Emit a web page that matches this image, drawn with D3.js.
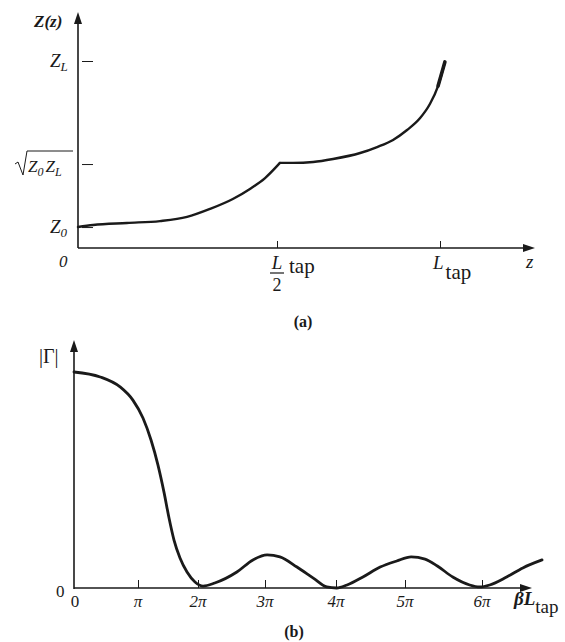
<!DOCTYPE html>
<html>
<head>
<meta charset="utf-8">
<script src="https://cdn.jsdelivr.net/npm/d3@7"></script>
<style>
  body { margin: 0; background: #fff; }
  svg { display: block; }
  svg text { font-family: "Liberation Serif", "Times New Roman", "DejaVu Serif", serif; fill: #1a1a1a; }
  .axis path, .axis line { stroke: #1a1a1a; }
</style>
</head>
<body>
<div id="chart"></div>
<script>
// (a) impedance along the taper: z in units of L_tap, Z in units of Z_L
const zPos = [0, 0.038, 0.123, 0.206, 0.274, 0.332, 0.389, 0.432, 0.470, 0.509,
  0.549, 0.611, 0.672, 0.755, 0.807, 0.856, 0.899, 0.939, 0.969, 0.994, 1.015];
const zImp = [0.112, 0.123, 0.134, 0.144, 0.166, 0.209, 0.262, 0.316, 0.374, 0.455,
  0.455, 0.460, 0.476, 0.508, 0.540, 0.578, 0.631, 0.695, 0.770, 0.866, 0.995];
const kink = 9; // index of the corner at L/2
const zTicks = [0.5, 1];
const impTicks = [0.112, 0.449, 1];

// (b) |Gamma| vs beta*L_tap, x in units of pi
const bl = [0, 0.41, 0.72, 0.92, 1.083, 1.217, 1.333, 1.433, 1.517, 1.6, 1.7, 1.817,
  1.95, 2.075, 2.25, 2.58, 2.82, 3.03, 3.21, 3.45, 3.68, 3.87, 4.01, 4.16, 4.39, 4.64,
  4.88, 5.08, 5.26, 5.42, 5.62, 5.84, 5.97, 6.10, 6.32, 6.53, 6.78];
const gam = [1.0, 0.977, 0.931, 0.870, 0.787, 0.685, 0.569, 0.444, 0.324, 0.222, 0.139,
  0.074, 0.028, 0.009, 0.023, 0.074, 0.130, 0.153, 0.144, 0.097, 0.046, 0.005, 0.0,
  0.014, 0.051, 0.097, 0.125, 0.144, 0.134, 0.102, 0.051, 0.014, 0.005, 0.014, 0.051,
  0.093, 0.130];
const blTicks = [1, 2, 3, 4, 5, 6];
const blLabels = ["π", "2π", "3π", "4π", "5π", "6π"];

const width = 565, height = 642;
const svg = d3.select("#chart").append("svg")
  .attr("width", width).attr("height", height);

const ink = "#1a1a1a";

function arrow(x, y, dir) {
  // filled arrow head, tip at (x,y)
  const p = dir === "up"
    ? [[x, y], [x - 4, y + 12], [x + 4, y + 12]]
    : [[x, y], [x - 12, y - 4], [x - 12, y + 4]];
  svg.append("path").attr("d", d3.line()(p) + "Z").attr("fill", ink);
}

// ---------- (a) ----------
const xA = d3.scaleLinear().domain([0, 0.5, 1]).range([78, 277, 440]);
const yA = d3.scaleLinear().domain([0, 1]).range([248, 61]);

svg.append("g").attr("class", "axis")
  .attr("transform", "translate(0,248)")
  .call(d3.axisTop(xA).tickValues(zTicks).tickFormat("").tickSize(7).tickSizeOuter(0))
  .call(g => g.select(".domain").attr("d", "M78,0H525").attr("stroke-width", 1.4));
svg.append("g").attr("class", "axis")
  .attr("transform", "translate(78,0)")
  .call(d3.axisRight(yA).tickValues(impTicks).tickFormat("").tickSize(15).tickSizeOuter(0))
  .call(g => g.select(".domain").attr("d", "M0,248V22").attr("stroke-width", 1.6))
  .call(g => g.selectAll(".tick line").attr("x1", 4));
arrow(78, 12, "up");
arrow(535, 248, "right");

const pts = d3.zip(zPos, zImp);
const lineA = d3.line().x(d => xA(d[0])).y(d => yA(d[1])).curve(d3.curveMonotoneX);
[pts.slice(0, kink + 1), pts.slice(kink)].forEach(seg => {
  svg.append("path")
    .datum(seg)
    .attr("fill", "none").attr("stroke", ink).attr("stroke-width", 2.4)
    .attr("stroke-linecap", "round").attr("stroke-linejoin", "round")
    .attr("d", lineA);
});
// heavier end of the curve at Z_L
svg.append("path")
  .datum(pts.slice(-2))
  .attr("fill", "none").attr("stroke", ink).attr("stroke-width", 3.6)
  .attr("stroke-linecap", "round")
  .attr("d", lineA);

// labels (a)
svg.append("text").attr("x", 34).attr("y", 27).attr("font-size", 17)
  .attr("font-style", "italic").attr("font-weight", "bold").text("Z(z)");
const zl = svg.append("text").attr("x", 50).attr("y", 67).attr("font-size", 19).attr("font-style", "italic");
zl.append("tspan").text("Z");
zl.append("tspan").attr("font-size", 13).attr("dy", 4).text("L");
const z0 = svg.append("text").attr("x", 50).attr("y", 233).attr("font-size", 19).attr("font-style", "italic");
z0.append("tspan").text("Z");
z0.append("tspan").attr("font-size", 13).attr("dy", 4).text("0");
const sq = svg.append("text").attr("x", 28).attr("y", 172).attr("font-size", 17).attr("font-style", "italic");
sq.append("tspan").text("Z");
sq.append("tspan").attr("font-size", 12).attr("dy", 4).text("0");
sq.append("tspan").attr("dy", -4).attr("dx", 2).text("Z");
sq.append("tspan").attr("font-size", 12).attr("dy", 4).text("L");
svg.append("path").attr("d", "M15,164L18,162L23,175L27,151H73")
  .attr("fill", "none").attr("stroke", ink).attr("stroke-width", 1);
svg.append("text").attr("x", 59).attr("y", 267).attr("font-size", 17)
  .attr("font-style", "italic").text("0");
svg.append("text").attr("x", xA(0.5)).attr("y", 269).attr("font-size", 19)
  .attr("font-style", "italic").attr("text-anchor", "middle").text("L");
svg.append("line").attr("x1", xA(0.5) - 7).attr("x2", xA(0.5) + 7)
  .attr("y1", 273).attr("y2", 273).attr("stroke", ink).attr("stroke-width", 1.2);
svg.append("text").attr("x", xA(0.5)).attr("y", 291).attr("font-size", 18)
  .attr("text-anchor", "middle").text("2");
svg.append("text").attr("x", xA(0.5) + 12).attr("y", 273).attr("font-size", 21).text("tap");
const lt = svg.append("text").attr("x", xA(1) - 7).attr("y", 269).attr("font-size", 19);
lt.append("tspan").attr("font-style", "italic").text("L");
lt.append("tspan").attr("font-size", 21).attr("dy", 10).attr("dx", 2).text("tap");
svg.append("text").attr("x", 526).attr("y", 268).attr("font-size", 19)
  .attr("font-style", "italic").text("z");
svg.append("text").attr("x", 303).attr("y", 327).attr("font-size", 16)
  .attr("font-weight", "bold").attr("text-anchor", "middle").text("(a)");

// ---------- (b) ----------
const xB = d3.scaleLinear().domain([0, 1, 2, 3, 4, 5, 6])
  .range([74, 138, 198, 265, 336, 405, 482]);
const yB = d3.scaleLinear().domain([0, 1]).range([588, 372]);

svg.append("g").attr("class", "axis")
  .attr("transform", "translate(0,588)")
  .call(d3.axisTop(xB).tickValues(blTicks).tickFormat("").tickSize(8).tickSizeOuter(0))
  .call(g => g.select(".domain").attr("d", "M74,0H522").attr("stroke-width", 1.4));
svg.append("line").attr("x1", 74).attr("x2", 74).attr("y1", 589).attr("y2", 350)
  .attr("stroke", ink).attr("stroke-width", 1.6);
arrow(74, 340, "up");
arrow(532, 588, "right");

svg.append("path")
  .datum(d3.zip(bl, gam))
  .attr("fill", "none").attr("stroke", ink).attr("stroke-width", 2.8)
  .attr("stroke-linecap", "round")
  .attr("d", d3.line().x(d => xB(d[0])).y(d => yB(d[1])).curve(d3.curveMonotoneX));

// labels (b)
svg.append("text").attr("x", 39).attr("y", 363).attr("font-size", 20).text("|Γ|");
svg.append("text").attr("x", 56).attr("y", 597).attr("font-size", 17).text("0");
svg.append("text").attr("x", 75).attr("y", 607).attr("font-size", 17)
  .attr("text-anchor", "middle").text("0");
svg.selectAll(".blLab").data(blTicks).join("text")
  .attr("class", "blLab")
  .attr("x", d => xB(d)).attr("y", 607).attr("font-size", 17)
  .attr("font-style", "italic").attr("text-anchor", "middle")
  .text((d, i) => blLabels[i]);
const bt = svg.append("text").attr("x", 514).attr("y", 605).attr("font-size", 19);
bt.append("tspan").attr("font-style", "italic").attr("font-weight", "bold").text("βL");
bt.append("tspan").attr("font-size", 19).attr("dy", 8).text("tap");
svg.append("text").attr("x", 294).attr("y", 637).attr("font-size", 16)
  .attr("font-weight", "bold").attr("text-anchor", "middle").text("(b)");
</script>
</body>
</html>
